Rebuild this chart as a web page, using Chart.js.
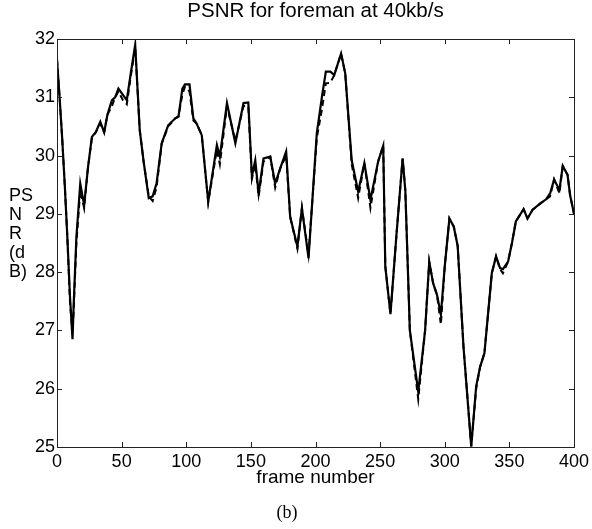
<!DOCTYPE html>
<html><head><meta charset="utf-8">
<script src="https://cdn.jsdelivr.net/npm/chart.js@4/dist/chart.umd.min.js"></script>
<style>
html,body{margin:0;padding:0;background:#fff;}
</style></head>
<body><canvas id="c" width="592" height="529"></canvas>
<script>
const titleText = 'PSNR for foreman at 40kb/s';
const xTitle = 'frame number';
const caption = '(b)';
const yLabelLines = ['PS', 'N', 'R', '(d', 'B)'];
const xTicks = [0, 50, 100, 150, 200, 250, 300, 350, 400];
const yTicks = [25, 26, 27, 28, 29, 30, 31, 32];

const frames = [0, 2, 4, 6, 8, 10, 12, 13, 15, 18, 21, 24, 27, 30, 33.5, 36.5, 39, 42.5, 45, 47.5, 51, 54, 57, 60.5,
  64, 67, 71, 74, 77, 81, 86, 91.5, 94, 97, 99, 102.5, 105.5, 108, 112, 117, 123.7, 126, 131.5, 138, 144.3, 148,
  150.8, 153.4, 156, 159.8, 165, 168.8, 172.7, 177.3, 180.4, 186, 189.5, 194.6, 201, 205, 208, 211.5, 214.5, 219.8,
  223, 228, 233, 237.8, 242.5, 248.5, 252.4, 254, 258, 262.5, 267.4, 269.5, 273, 279.5, 284.8, 288, 291, 294, 297,
  300, 303.6, 307, 310, 314.5, 320.5, 324.3, 327.4, 330.7, 336.4, 339.7, 342.8, 345, 349, 352, 355, 361, 364, 368,
  374, 378.4, 381.5, 384.6, 388.7, 391.3, 395, 397, 400];

const psnrSolid = [31.65, 31.0, 30.3, 29.5, 28.6, 27.6, 26.85, 27.5, 28.6, 29.52, 29.15, 29.8, 30.32, 30.4, 30.58, 30.4, 30.7, 30.95, 31.0, 31.15, 31.04, 30.95, 31.4, 31.9,
  30.44, 29.9, 29.27, 29.3, 29.52, 30.21, 30.52, 30.64, 30.67, 31.15, 31.22, 31.22, 30.64, 30.55, 30.35, 29.21, 30.18, 29.98, 30.9, 30.21, 30.9, 30.91,
  29.64, 29.92, 29.35, 29.95, 29.98, 29.52, 29.78, 30.07, 28.95, 28.44, 29.1, 28.24, 30.38, 31.01, 31.44, 31.44, 31.38, 31.75,
  31.41, 29.92, 29.38, 29.87, 29.24, 29.9, 30.17, 28.1, 27.28, 28.6, 29.95, 29.4, 27.0, 25.95, 27.0, 28.18, 27.81, 27.61, 27.27,
  28.1, 28.92, 28.78, 28.45, 26.72, 25.01, 26.04, 26.38, 26.61, 27.98, 28.27, 28.07, 28.05, 28.18, 28.5, 28.87, 29.08, 28.92, 29.07,
  29.18, 29.25, 29.35, 29.59, 29.41, 29.82, 29.67, 29.32, 29.0];

const psnrDashed = [31.65, 31.0, 30.3, 29.5, 28.6, 27.5, 26.95, 27.4, 28.5, 29.4, 29.1, 29.8, 30.3, 30.4, 30.55, 30.4, 30.7, 30.85, 31.0, 31.1, 30.95, 30.88, 31.35, 31.85,
  30.44, 29.9, 29.3, 29.22, 29.45, 30.2, 30.5, 30.64, 30.67, 31.05, 31.18, 31.1, 30.6, 30.55, 30.35, 29.2, 30.1, 29.85, 30.85, 30.25, 30.85, 30.85,
  29.6, 29.85, 29.3, 29.9, 29.98, 29.45, 29.78, 30.0, 28.95, 28.4, 29.1, 28.3, 30.3, 30.8, 31.24, 31.25, 31.38, 31.75,
  31.41, 29.85, 29.27, 29.87, 29.1, 29.9, 30.17, 28.1, 27.28, 28.6, 29.95, 29.4, 27.0, 25.82, 27.0, 28.18, 27.81, 27.61, 27.1,
  28.1, 28.92, 28.78, 28.45, 26.72, 25.01, 26.0, 26.38, 26.61, 27.98, 28.27, 28.05, 27.98, 28.18, 28.5, 28.87, 29.08, 28.92, 29.07,
  29.18, 29.25, 29.3, 29.59, 29.35, 29.82, 29.67, 29.32, 29.0];

const FONT = "'Liberation Sans', Arial, Helvetica, sans-serif";

const toPts = (xs, ys) => xs.map((x, i) => ({ x: x, y: ys[i] }));

const frameAndLabels = {
  id: 'frameAndLabels',
  afterDraw(chart) {
    const ctx = chart.ctx;
    const a = chart.chartArea;
    const xs = chart.scales.x, ys = chart.scales.y;
    ctx.save();
    ctx.strokeStyle = '#222';
    ctx.lineWidth = 1;
    ctx.strokeRect(Math.round(a.left) + 0.5, Math.round(a.top) + 0.5,
      Math.round(a.right - a.left), Math.round(a.bottom - a.top));
    const tl = 5;
    ctx.beginPath();
    xTicks.forEach(v => {
      const px = Math.round(xs.getPixelForValue(v)) + 0.5;
      ctx.moveTo(px, a.bottom); ctx.lineTo(px, a.bottom - tl);
      ctx.moveTo(px, a.top); ctx.lineTo(px, a.top + tl);
    });
    yTicks.forEach(v => {
      const py = Math.round(ys.getPixelForValue(v)) + 0.5;
      ctx.moveTo(a.left, py); ctx.lineTo(a.left + tl, py);
      ctx.moveTo(a.right, py); ctx.lineTo(a.right - tl, py);
    });
    ctx.stroke();
    ctx.fillStyle = '#000';
    // chart title, centred over the plot box
    ctx.font = '20.5px ' + FONT;
    ctx.textAlign = 'center';
    ctx.textBaseline = 'middle';
    ctx.fillText(titleText, (a.left + a.right) / 2, a.top - 28);
    // y-axis label, wrapped as in the original
    ctx.font = '18px ' + FONT;
    ctx.textAlign = 'left';
    const y0 = ys.getPixelForValue(29.3);
    yLabelLines.forEach((t, i) => ctx.fillText(t, 9, y0 + i * 19));
    ctx.restore();
  }
};

new Chart(document.getElementById('c'), {
  type: 'line',
  data: {
    datasets: [
      { label: 'dashed', data: toPts(frames, psnrDashed), borderColor: '#000', borderWidth: 2,
        borderDash: [6, 4], pointRadius: 0, tension: 0, fill: false },
      { label: 'solid', data: toPts(frames, psnrSolid), borderColor: '#000', borderWidth: 2.2,
        pointRadius: 0, tension: 0, fill: false }
    ]
  },
  options: {
    responsive: false,
    animation: false,
    devicePixelRatio: 1,
    layout: { padding: { left: 0, right: 18, top: 39, bottom: 0 } },
    plugins: {
      legend: { display: false },
      tooltip: { enabled: false },
      title: { display: false },
      subtitle: { display: true, text: caption, position: 'bottom', color: '#000',
        font: { family: "'Liberation Serif', 'Times New Roman', serif", size: 18, weight: 'normal', lineHeight: 1 },
        padding: { top: 17, bottom: 7 } }
    },
    scales: {
      x: {
        type: 'linear', min: 0, max: 400,
        grid: { display: false, drawTicks: false },
        border: { display: false },
        afterBuildTicks: s => { s.ticks = xTicks.map(v => ({ value: v })); },
        afterFit: s => { s.height = 40; s.paddingLeft = 0; s.paddingRight = 0; },
        ticks: { color: '#000', font: { family: FONT, size: 18, lineHeight: 1 }, padding: 6, maxRotation: 0 },
        title: { display: true, text: xTitle, color: '#000',
          font: { family: FONT, size: 19, lineHeight: 0.75 }, padding: { top: 0, bottom: 2 } }
      },
      y: {
        type: 'linear', min: 25, max: 32,
        grid: { display: false, drawTicks: false },
        border: { display: false },
        afterBuildTicks: s => { s.ticks = yTicks.map(v => ({ value: v })); },
        afterFit: s => { s.width = 57; },
        ticks: { color: '#000', font: { family: FONT, size: 18, lineHeight: 1 }, padding: 2 }
      }
    }
  },
  plugins: [frameAndLabels]
});
</script>
</body></html>
